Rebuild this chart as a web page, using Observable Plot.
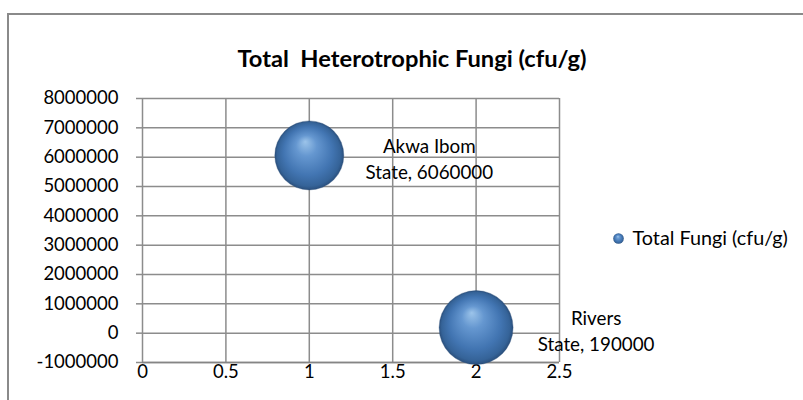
<!DOCTYPE html>
<html><head><meta charset="utf-8">
<script src="https://cdn.jsdelivr.net/npm/d3@7"></script>
<script src="https://cdn.jsdelivr.net/npm/@observablehq/plot@0.6"></script>
<style>
body{margin:0;background:#fff;}
#wrap{position:relative;width:803px;height:400px;overflow:hidden;}
#frame{position:absolute;left:7px;top:13px;width:840px;height:440px;border-top:2px solid #8a8a8a;border-left:2px solid #8a8a8a;box-sizing:border-box;}
#chart{position:absolute;left:0;top:0;}
.title text{white-space:pre;}
</style></head>
<body><div id="wrap"><div id="frame"></div><div id="chart"></div></div>
<script>
const xValues = [1, 2];
const yValues = [6060000, 190000];
const states = ["Akwa Ibom State", "Rivers State"];
const bubbleSizes = [87, 100];
const xTicks = [0, 0.5, 1, 1.5, 2, 2.5];
const yTicks = [-1000000, 0, 1000000, 2000000, 3000000, 4000000, 5000000, 6000000, 7000000, 8000000];
const seriesName = "Total Fungi (cfu/g)";
const chartTitle = "Total  Heterotrophic Fungi (cfu/g)";

const data = xValues.map((x, i) => ({x, y: yValues[i], state: states[i], size: bubbleSizes[i]}));
const font = "Lato, 'Open Sans', sans-serif";
const grid = "#8c8c8c";

const plot = Plot.plot({
  width: 803, height: 400,
  marginLeft: 142, marginRight: 244, marginTop: 98, marginBottom: 38,
  style: {fontFamily: font, fontSize: "18.5px", color: "#000", background: "transparent", overflow: "visible"},
  x: {domain: [0, 2.5], label: null},
  y: {domain: [-1000000, 8000000], label: null},
  r: {type: "sqrt", domain: [0, 100], range: [0, 37]},
  marks: [
    Plot.gridX(xTicks, {stroke: grid, strokeOpacity: 1, strokeWidth: 1.5}),
    Plot.gridY(yTicks, {stroke: grid, strokeOpacity: 1, strokeWidth: 1.5}),
    Plot.axisX(xTicks, {tickFormat: d => String(d), tickSize: 0, tickPadding: 2, fill: "#000", fontSize: 18.5}),
    Plot.axisY(yTicks, {tickFormat: d => String(d), tickSize: 6, tickPadding: 18, stroke: grid, strokeWidth: 1.5, strokeOpacity: 1, fill: "#000", fontSize: 18.5}),
    Plot.ruleY([-1000000], {stroke: "#858585", strokeWidth: 1.7}),
    Plot.dot(data, {x: "x", y: "y", r: "size", fill: "url(#sphereGrad)", stroke: "#2a4d78", strokeOpacity: 0.35, strokeWidth: 1}),
    Plot.text(data, {x: "x", y: "y", text: d => d.state.replace(" State", "\nState") + ", " + d.y, dx: 120, dy: 2, lineHeight: 1.42, fontSize: 18.8, fill: "#000"}),
    Plot.text([chartTitle], {frameAnchor: "top", dx: 61, dy: -48, fontWeight: "bold", fontSize: 23.7, fill: "#000", className: "title"}),
    Plot.dot([seriesName], {frameAnchor: "right", dx: 59, dy: 8, r: 5.3, fill: "url(#sphereGrad)"}),
    Plot.text([seriesName], {frameAnchor: "right", dx: 73, dy: 8, textAnchor: "start", fontSize: 19.8, fill: "#000"})
  ]
});

const defs = d3.select(plot).insert("defs", ":first-child");
const g = defs.append("radialGradient").attr("id", "sphereGrad")
  .attr("cx", "50%").attr("cy", "50%").attr("r", "50%").attr("fx", "44%").attr("fy", "30%");
g.append("stop").attr("offset", "0%").attr("stop-color", "#9cc4ea");
g.append("stop").attr("offset", "30%").attr("stop-color", "#6597d0");
g.append("stop").attr("offset", "70%").attr("stop-color", "#4275b2");
g.append("stop").attr("offset", "92%").attr("stop-color", "#356398");
g.append("stop").attr("offset", "100%").attr("stop-color", "#2a4f7c");

document.getElementById("chart").appendChild(plot);
</script>
</body></html>
